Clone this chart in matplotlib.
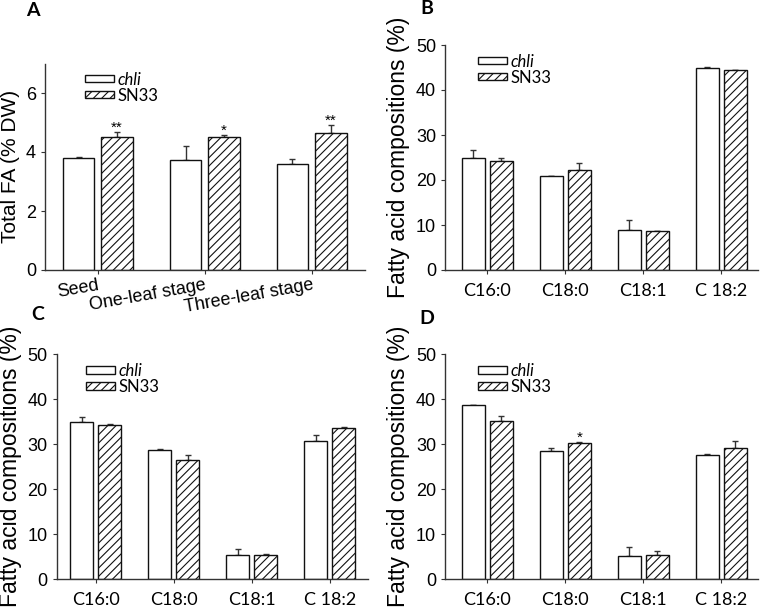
import numpy as np
import matplotlib
matplotlib.use('Agg')
import matplotlib.pyplot as plt

# panel A: total fatty acid (% DW)
stages = ['Seed', 'One-leaf stage', 'Three-leaf stage']
chli_A = [3.80, 3.72, 3.61]
chli_A_err = [0.02, 0.48, 0.14]
sn33_A = [4.51, 4.50, 4.64]
sn33_A_err = [0.16, 0.09, 0.27]
sig_A = ['**', '*', '**']

# panels B-D: fatty acid compositions (%)
acids = ['C16:0', 'C18:0', 'C18:1', 'C 18:2']
chli_B = [25.0, 20.9, 9.0, 45.0]
chli_B_err = [1.6, 0.05, 2.2, 0.05]
sn33_B = [24.3, 22.3, 8.7, 44.5]
sn33_B_err = [0.5, 1.4, 0.05, 0.05]
sig_B = ['', '', '', '']

chli_C = [34.9, 28.7, 5.5, 30.8]
chli_C_err = [1.1, 0.15, 1.2, 1.2]
sn33_C = [34.4, 26.4, 5.5, 33.7]
sn33_C_err = [0.15, 1.2, 0.1, 0.15]
sig_C = ['', '', '', '']

chli_D = [38.7, 28.4, 5.2, 27.7]
chli_D_err = [0.05, 0.7, 1.9, 0.1]
sn33_D = [35.1, 30.4, 5.3, 29.1]
sn33_D_err = [1.2, 0.15, 1.0, 1.6]
sig_D = ['', '*', '', '']

ARIAL = 'Liberation Sans'
CALIBRI = 'Lato'
LC = '#333333'

plt.rcParams['hatch.linewidth'] = 0.8
plt.rcParams['hatch.color'] = '#222222'

fig = plt.figure(figsize=(7.6, 6.09), dpi=100)


def panel(rect, cats, chli, chli_err, sn33, sn33_err, sig, ymax, yticks,
          ylabel, ylab_size, xlim, leg_xy, letter, letter_xy, rotate=False):
    ax = fig.add_axes(rect)
    x = np.arange(len(cats))
    w = 0.295
    off = 0.18
    b1 = ax.bar(x - off, chli, w, color='white', edgecolor='#111111', lw=1.0,
                label='chli', zorder=2)
    b2 = ax.bar(x + off, sn33, w, color='white', edgecolor='#111111', lw=1.0,
                hatch='////', label='SN33', zorder=2)
    z = np.zeros(len(cats))
    ax.errorbar(x - off, chli, yerr=[z, chli_err], fmt='none', ecolor=LC,
                elinewidth=1.0, capsize=2.5, capthick=1.0, zorder=1)
    ax.errorbar(x + off, sn33, yerr=[z, sn33_err], fmt='none', ecolor=LC,
                elinewidth=1.0, capsize=2.5, capthick=1.0, zorder=1)
    for i, s in enumerate(sig):
        if s:
            ax.text(x[i] + off, sn33[i] + sn33_err[i], s, ha='center',
                    va='baseline', fontsize=11, family=ARIAL)
    ax.set_xlim(*xlim)
    ax.set_ylim(0, ymax)
    ax.set_yticks(yticks)
    ax.set_xticks(x)
    for sp in ['top', 'right']:
        ax.spines[sp].set_visible(False)
    for sp in ['left', 'bottom']:
        ax.spines[sp].set_color(LC)
        ax.spines[sp].set_linewidth(1.0)
    ax.tick_params(axis='y', direction='out', length=3, width=0.8, color=LC,
                   pad=3.5, labelsize=13)
    for t in ax.get_yticklabels():
        t.set_family(ARIAL)
    if rotate:
        ax.tick_params(axis='x', direction='out', length=3, width=0.8,
                       color=LC, pad=2)
        ax.set_xticklabels(cats, rotation=10, ha='right', va='top',
                           rotation_mode='anchor', family=ARIAL, fontsize=13)
    else:
        ax.tick_params(axis='x', direction='out', length=3, width=0.8,
                       color=LC, pad=6)
        ax.set_xticklabels(cats, family=CALIBRI, fontsize=13)
    ax.set_ylabel(ylabel, family=ARIAL, fontsize=ylab_size, labelpad=4)
    leg = ax.legend(handles=[b1, b2], loc='upper left', bbox_to_anchor=leg_xy,
                    frameon=False, borderpad=0, borderaxespad=0,
                    handlelength=1.75, handleheight=0.3, handletextpad=0.2,
                    labelspacing=0.0, prop={'family': CALIBRI, 'size': 12})
    leg.get_texts()[0].set_style('italic')
    fig.text(letter_xy[0] / 760, 1 - letter_xy[1] / 609, letter,
             family=CALIBRI, fontweight='bold', fontsize=14,
             ha='center', va='center')
    return ax


panel([45 / 760, 1 - 270 / 609, 320 / 760, 206.5 / 609], stages,
      chli_A, chli_A_err, sn33_A, sn33_A_err, sig_A, 7, [0, 2, 4, 6],
      'Total FA (% DW)', 15, (-0.495, 2.5), (0.125, 0.96), 'A', (33, 10),
      rotate=True)
panel([445 / 760, 1 - 270 / 609, 313 / 760, 225 / 609], acids,
      chli_B, chli_B_err, sn33_B, sn33_B_err, sig_B, 50,
      [0, 10, 20, 30, 40, 50], 'Fatty acid compositions (%)', 16.5,
      (-0.54, 3.47), (0.105, 0.962), 'B', (427, 8))
panel([56.7 / 760, 1 - 579.3 / 609, 311.3 / 760, 225 / 609], acids,
      chli_C, chli_C_err, sn33_C, sn33_C_err, sig_C, 50,
      [0, 10, 20, 30, 40, 50], 'Fatty acid compositions (%)', 16.5,
      (-0.50, 3.49), (0.095, 0.962), 'C', (38, 314))
panel([445 / 760, 1 - 579.3 / 609, 313 / 760, 225 / 609], acids,
      chli_D, chli_D_err, sn33_D, sn33_D_err, sig_D, 50,
      [0, 10, 20, 30, 40, 50], 'Fatty acid compositions (%)', 16.5,
      (-0.54, 3.47), (0.105, 0.962), 'D', (427, 319))

fig.savefig('out.png', dpi=100)
